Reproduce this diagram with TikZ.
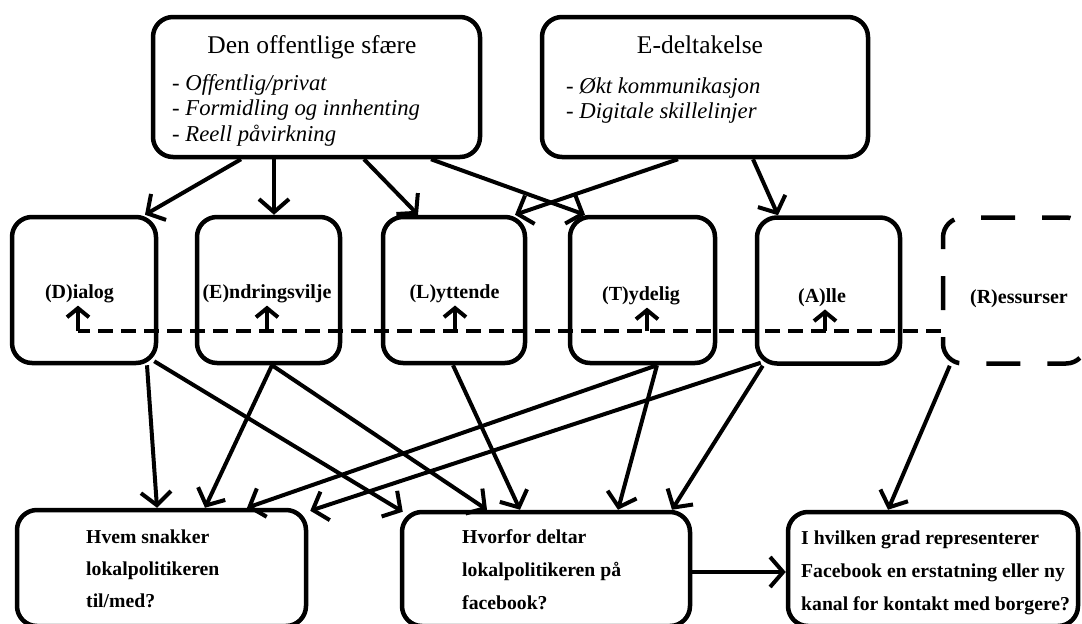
\documentclass[tikz,border=0pt]{standalone}
\usepackage{fontspec}
\setmainfont{Liberation Serif}
\usetikzlibrary{arrows.meta}
\begin{document}
\begin{tikzpicture}[x=1pt,y=-1pt,
  box/.style={draw, line width=4.5pt, rounded corners=20pt, inner sep=0pt},
  dbox/.style={box, dash pattern=on 34pt off 27pt, dash phase=10pt},
  arr/.style={line width=4pt, -{Straight Barb[length=13pt,width=30pt]}},
  uarr/.style={line width=4pt, -{Straight Barb[length=9pt,width=22pt]}},
  busline/.style={line width=4.5pt, dash pattern=on 15pt off 8pt},
  ttl/.style={font=\fontsize{25.5}{30}\selectfont, anchor=base, inner sep=0pt},
  itm/.style={font=\fontsize{22.7}{26}\selectfont\itshape, anchor=base west, inner sep=0pt},
  lab/.style={font=\fontsize{20}{24}\selectfont\bfseries, anchor=base, inner sep=0pt},
  qtxt/.style={font=\fontsize{19.7}{24}\selectfont\bfseries, anchor=base west, inner sep=0pt}]
\useasboundingbox (0,0) rectangle (1082,624);
\fill[white] (0,0) rectangle (1082,624);
\clip (0,0) rectangle (1082,624);

% top boxes
\node[box, minimum width=327pt, minimum height=140pt] (sfaere) at (316.5,87) {};
\node[box, minimum width=326pt, minimum height=140pt] (edel) at (705,87) {};
\node[ttl] (sfaere-t) at (312,53) {Den offentlige sfære};
\node[itm] (sfaere-1) at (172,90) {- Offentlig/privat};
\node[itm] (sfaere-2) at (172,115) {- Formidling og innhenting};
\node[itm] (sfaere-3) at (172,141) {- Reell påvirkning};
\node[ttl] (edel-t) at (700,53) {E-deltakelse};
\node[itm] (edel-1) at (566,93) {- Økt kommunikasjon};
\node[itm] (edel-2) at (566,118) {- Digitale skillelinjer};

% middle boxes
\node[box, minimum width=144pt, minimum height=146pt] (dial) at (84,290) {};
\node[box, minimum width=143pt, minimum height=146pt] (endr) at (268.5,290) {};
\node[box, minimum width=142pt, minimum height=146pt] (lytt) at (454,290) {};
\node[box, minimum width=145pt, minimum height=146pt] (tyd) at (642.5,290) {};
\node[box, minimum width=143pt, minimum height=146pt] (alle) at (828.5,290.5) {};
\node[dbox, minimum width=143pt, minimum height=146pt] (ress) at (1014.5,290.5) {};
\node[lab] (dial-l) at (79.5,298) {(D)ialog};
\node[lab] (endr-l) at (267,298) {(E)ndringsvilje};
\node[lab] (lytt-l) at (454.5,298) {(L)yttende};
\node[lab] (tyd-l) at (641,300) {(T)ydelig};
\node[lab] (alle-l) at (822,302) {(A)lle};
\node[lab] (ress-l) at (1019,303) {(R)essurser};

% bottom boxes
\node[box, minimum width=289pt, minimum height=116pt] (qa) at (161.5,568) {};
\node[box, minimum width=288pt, minimum height=114pt] (qb) at (546,569) {};
\node[box, minimum width=290pt, minimum height=114pt] (qc) at (933,569) {};
\node[qtxt] (qa-1) at (86,543) {Hvem snakker};
\node[qtxt] (qa-2) at (86,575) {lokalpolitikeren};
\node[qtxt] (qa-3) at (86,607) {til/med?};
\node[qtxt] (qb-1) at (462,543) {Hvorfor deltar};
\node[qtxt] (qb-2) at (462,576) {lokalpolitikeren på};
\node[qtxt] (qb-3) at (462,609) {facebook?};
\node[qtxt] (qc-1) at (801,544) {I hvilken grad representerer};
\node[qtxt] (qc-2) at (801,577) {Facebook en erstatning eller ny};
\node[qtxt] (qc-3) at (801,610) {kanal for kontakt med borgere?};

% dashed bus from Ressurser with arrows up into each box
\coordinate (busL) at (78,331);
\draw[busline] (ress.west |- busL) -- (busL);
\draw[uarr] ([xshift=-1.5pt]dial-l.south |- busL) -- ([xshift=-1.5pt,yshift=-3pt]dial-l.south);
\draw[uarr] (endr-l.south |- busL) -- ([yshift=-3pt]endr-l.south);
\draw[uarr] ([xshift=0.5pt]lytt-l.south |- busL) -- ([xshift=0.5pt,yshift=-3pt]lytt-l.south);
\draw[uarr] ([xshift=6pt]tyd-l.south |- busL) -- ([xshift=6pt,yshift=-3pt]tyd-l.south);
\draw[uarr] ([xshift=3pt]alle-l.south |- busL) -- ([xshift=3pt,yshift=-3pt]alle-l.south);

% top -> middle
\draw[arr] ([xshift=-75.5pt]sfaere.south) -- ([xshift=61pt]dial.north);
\draw[arr] ([xshift=-42.5pt]sfaere.south) -- ([xshift=5.5pt]endr.north);
\draw[arr] ([xshift=47.5pt]sfaere.south) -- ([xshift=-36pt]lytt.north);
\draw[arr] ([xshift=114.5pt]sfaere.south) -- ([xshift=-57.5pt]tyd.north);
\draw[arr] ([xshift=-27pt]edel.south) -- ([xshift=61pt]lytt.north);
\draw[arr] ([xshift=48pt]edel.south) -- ([xshift=-50.5pt]alle.north);

% middle -> bottom
\draw[arr] ([xshift=63pt]dial.south) -- ([xshift=-4.5pt]qa.north);
\draw[arr] ([xshift=-4pt,yshift=4pt]dial.south east) -- ([xshift=3pt,yshift=-2pt]qb.north west);
\draw[arr] ([xshift=3.5pt]endr.south) -- ([xshift=43.5pt]qa.north);
\draw[arr] ([xshift=3.5pt]endr.south) -- ([xshift=-59pt]qb.north);
\draw[arr] ([xshift=-1pt]lytt.south) -- ([xshift=-26pt]qb.north);
\draw[arr] ([xshift=14.5pt]tyd.south) -- ([xshift=85.5pt]qa.north);
\draw[arr] ([xshift=14.5pt]tyd.south) -- ([xshift=72pt]qb.north);
\draw[arr] ([xshift=6pt,yshift=3pt]alle.south west) -- ([xshift=2pt,yshift=-3pt]qa.north east);
\draw[arr] ([xshift=8pt]alle.south west) -- ([xshift=126pt]qb.north);
\draw[arr] ([xshift=9pt]ress.south west) -- ([xshift=-45pt]qc.north);

% bottom
\draw[arr] ([yshift=-3pt]qb.east) -- ([yshift=-3pt]qc.west);
\end{tikzpicture}
\end{document}
